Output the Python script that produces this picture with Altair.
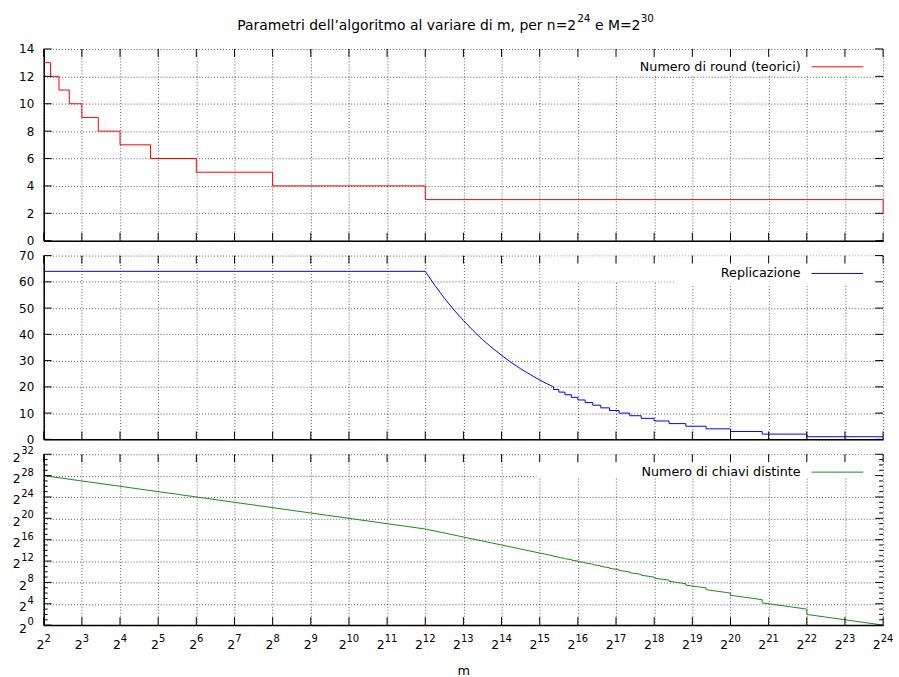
import altair as alt
import pandas as pd

FONT = "DejaVu Sans"
# Title "Parametri dell’algoritmo al variare di m, per n=2^24 e M=2^30" (pieces, with real superscripts)
TITLE_MAIN = "Parametri dell’algoritmo al variare di m, per n=2"
TITLE_SUP1 = "24"
TITLE_MID = "e M=2"
TITLE_SUP2 = "30"
X_TITLE = "m"

# x axis: exponent k of m = 2^k (labels drawn as "2" with superscript k)
x_tick_exps = [2, 3, 4, 5, 6, 7, 8, 9, 10, 11, 12, 13, 14, 15, 16, 17, 18, 19, 20, 21, 22, 23, 24]
x_tick_sup = ["2", "3", "4", "5", "6", "7", "8", "9", "10", "11", "12", "13", "14", "15",
              "16", "17", "18", "19", "20", "21", "22", "23", "24"]

# Panel 1: number of rounds (step function, value starts at given exponent)
rounds_label = "Numero di round (teorici)"
round_step_exp = [2.0, 2.18, 2.4, 2.67, 3.0, 3.43, 4.0, 4.8, 6.0, 8.0, 12.0, 24.0]
round_step_val = [13, 12, 11, 10, 9, 8, 7, 6, 5, 4, 3, 2]
rounds_y_ticks = [0, 2, 4, 6, 8, 10, 12, 14]

# Panel 2: replication
rep_label = "Replicazione"
rep_curve_exp = [2.0, 12.0, 12.25, 12.5, 12.75, 13.0, 13.25, 13.5, 13.75, 14.0,
                 14.25, 14.5, 14.75, 15.0, 15.2, 15.36]
rep_curve_val = [64, 64, 58.7, 53.8, 49.3, 45.3, 41.5, 38.0, 34.9, 32.0,
                 29.3, 26.9, 24.7, 22.6, 21.1, 20.0]
rep_step_exp = [15.36, 15.50, 15.66, 15.83, 16.0, 16.19, 16.39, 16.6, 16.83, 17.08,
                17.36, 17.66, 18.0, 18.39, 18.83, 19.36, 20.0, 20.83, 22.0]
rep_step_val = [19, 18, 17, 16, 15, 14, 13, 12, 11, 10, 9, 8, 7, 6, 5, 4, 3, 2, 1]
rep_end_exp = 24.0
rep_y_ticks = [0, 10, 20, 30, 40, 50, 60, 70]

# Panel 3: number of distinct keys (log2 of the value)
keys_label = "Numero di chiavi distinte"
keys_curve_exp = [2.0, 12.0, 13.0, 14.0, 15.0, 15.36]
keys_curve_log2 = [28.0, 18.0, 16.5, 15.0, 13.5, 12.97]
keys_step_start_log2 = [12.89, 12.67, 12.43, 12.18, 11.91, 11.62, 11.32, 10.99, 10.63, 10.24,
                        9.81, 9.34, 8.81, 8.20, 7.49, 6.64, 5.59, 4.17, 2.00]
keys_step_end_log2 = [12.74, 12.51, 12.26, 12.00, 11.72, 11.42, 11.10, 10.76, 10.38, 9.97,
                      9.51, 9.00, 8.42, 7.76, 6.97, 6.00, 4.76, 3.00, 0.00]
keys_y_major = [0, 4, 8, 12, 16, 20, 24, 28, 32]
keys_y_sup = ["0", "4", "8", "12", "16", "20", "24", "28", "32"]
keys_y_minor = [1, 2, 3, 5, 6, 7, 9, 10, 11, 13, 14, 15, 17, 18, 19, 21, 22, 23,
                25, 26, 27, 29, 30, 31]

W = 845
H1, H2, H3 = 193, 185, 172
TICK = 8
MINOR = 4
BASE_FS = 12.5
SUP_FS = 10
SUP_DIGIT_W = 6.4


# ---- build tables ----
df_rounds = pd.DataFrame({"x": round_step_exp, "y": round_step_val})
df_rounds["i"] = range(len(df_rounds))

rep_pts = list(zip(rep_curve_exp, rep_curve_val))
rep_ends = rep_step_exp[1:] + [rep_end_exp]
for s, e, v in zip(rep_step_exp, rep_ends, rep_step_val):
    rep_pts += [(s, v), (e, v)]
df_rep = pd.DataFrame(rep_pts, columns=["x", "y"])
df_rep["i"] = range(len(df_rep))

keys_pts = list(zip(keys_curve_exp, keys_curve_log2))
for s, e, a, b in zip(rep_step_exp, rep_ends, keys_step_start_log2, keys_step_end_log2):
    keys_pts += [(s, a), (e, b)]
df_keys = pd.DataFrame(keys_pts, columns=["x", "y"])
df_keys["i"] = range(len(df_keys))

xs = alt.Scale(domain=[2, 24], nice=False, zero=False)


def text_layer(txt, x, y, size, align="left"):
    return alt.Chart(pd.DataFrame({"t": [txt]})).mark_text(
        align=align, baseline="alphabetic", font=FONT, fontSize=size, color="black").encode(
        text="t:N", x=alt.value(x), y=alt.value(y))


def panel(df, color, interp, y_dom, y_ticks, height, legend_text,
          rects, show_x, sup_labels=None, minor=None, extra=None):
    ys = alt.Scale(domain=y_dom, nice=False, zero=False)
    if show_x:
        xaxis = alt.Axis(values=x_tick_exps, labels=False, title=X_TITLE, grid=True,
                         ticks=False, tickSize=0, minExtent=28, maxExtent=28,
                         titlePadding=12)
    else:
        xaxis = alt.Axis(values=x_tick_exps, labels=False, title=None, grid=True,
                         ticks=False, tickSize=0)
    yaxis = alt.Axis(values=y_ticks, grid=True, ticks=False, tickSize=0, labelPadding=10,
                     title=None, minExtent=30, maxExtent=30, labelFlush=False,
                     labels=sup_labels is None)

    one = pd.DataFrame({"label": [legend_text]})

    line = alt.Chart(df).mark_line(color=color, strokeWidth=1, interpolate=interp).encode(
        x=alt.X("x:Q", scale=xs, axis=xaxis),
        y=alt.Y("y:Q", scale=ys, axis=yaxis),
        order="i:Q")

    layers = []
    for (rx, rx2, ry, ry2) in rects:
        layers.append(alt.Chart(one).mark_rect(fill="white").encode(
            x=alt.value(rx), x2=alt.value(rx2), y=alt.value(ry), y2=alt.value(ry2)))
    layers.append(line)

    # inward ticks, mirrored on all four sides
    dxt = pd.DataFrame({"t": x_tick_exps})
    for y0, y1 in [(height, height - TICK), (0, TICK)]:
        layers.append(alt.Chart(dxt).mark_rule(color="black", strokeWidth=1).encode(
            x=alt.X("t:Q", scale=xs, axis=xaxis), y=alt.value(y0), y2=alt.value(y1)))
    dyt = pd.DataFrame({"t": y_ticks})
    for x0, x1 in [(0, TICK), (W, W - TICK)]:
        layers.append(alt.Chart(dyt).mark_rule(color="black", strokeWidth=1).encode(
            y=alt.Y("t:Q", scale=ys, axis=yaxis), x=alt.value(x0), x2=alt.value(x1)))
    if minor:
        dmt = pd.DataFrame({"t": minor})
        for x0, x1 in [(0, MINOR), (W, W - MINOR)]:
            layers.append(alt.Chart(dmt).mark_rule(color="black", strokeWidth=1).encode(
                y=alt.Y("t:Q", scale=ys, axis=yaxis), x=alt.value(x0), x2=alt.value(x1)))

    # x tick labels "2^k" with real superscript text
    if show_x:
        dxl = pd.DataFrame({"t": x_tick_exps, "sup": x_tick_sup})
        for n, d in [(1, 0.8), (2, -2.4)]:
            sub = dxl[dxl["sup"].str.len() == n]
            layers.append(alt.Chart(sub).mark_text(
                align="right", baseline="alphabetic", font=FONT, fontSize=BASE_FS,
                color="black", dx=d).encode(
                x=alt.X("t:Q", scale=xs, axis=xaxis), y=alt.value(height + 24),
                text=alt.value("2")))
            layers.append(alt.Chart(sub).mark_text(
                align="left", baseline="alphabetic", font=FONT, fontSize=SUP_FS,
                color="black", dx=d).encode(
                x=alt.X("t:Q", scale=xs, axis=xaxis), y=alt.value(height + 17),
                text="sup:N"))

    # y tick labels "2^k"
    if sup_labels is not None:
        dyl = pd.DataFrame({"t": y_ticks, "sup": sup_labels})
        for n in [1, 2]:
            sub = dyl[dyl["sup"].str.len() == n]
            layers.append(alt.Chart(sub).mark_text(
                align="right", baseline="alphabetic", font=FONT, fontSize=SUP_FS,
                color="black", dy=0).encode(
                x=alt.value(-10), y=alt.Y("t:Q", scale=ys, axis=yaxis), text="sup:N"))
            layers.append(alt.Chart(sub).mark_text(
                align="right", baseline="alphabetic", font=FONT, fontSize=BASE_FS,
                color="black", dy=7.5).encode(
                x=alt.value(-10 - SUP_DIGIT_W * n - 0.5),
                y=alt.Y("t:Q", scale=ys, axis=yaxis), text=alt.value("2")))

    layers.append(alt.Chart(one).mark_text(align="right", baseline="middle", font=FONT,
                                           fontSize=12.8, color="black").encode(
        text="label:N", x=alt.value(762), y=alt.value(18)))
    layers.append(alt.Chart(one).mark_rule(color=color, strokeWidth=1).encode(
        x=alt.value(773), x2=alt.value(825), y=alt.value(18)))
    if extra:
        layers += extra

    return alt.layer(*layers).properties(width=W, height=height)


title_layers = [
    text_layer(TITLE_MAIN, 536, -19.4, 14, align="right"),
    text_layer(TITLE_SUP1, 537, -27, 10.5),
    text_layer(TITLE_MID, 555, -19.4, 14),
    text_layer(TITLE_SUP2, 601, -27, 10.5),
]

p1 = panel(df_rounds, "#ff0000", "step-after", [0, 14], rounds_y_ticks, H1,
           rounds_label, [(500, 843, 1, 26)], False, extra=title_layers)
p2 = panel(df_rep, "#0000ff", "linear", [0, 70], rep_y_ticks, H2,
           rep_label, [(500, 843, 1, 26), (636, 843, 1, 30)], False)
p3 = panel(df_keys, "#1a8a1a", "linear", [0, 32], keys_y_major, H3, keys_label,
           [(496, 843, 1, 24)], True, sup_labels=keys_y_sup, minor=keys_y_minor)

chart = alt.vconcat(p1, p2, p3, spacing=15, bounds="flush").properties(
    padding={"left": 12, "top": 12, "right": 5, "bottom": 5},
).configure_view(stroke=None).configure_axis(
    domainColor="black", domainWidth=1.5,
    gridColor="#000000", gridDash=[1, 2], gridOpacity=0.65, gridWidth=1,
    labelFont=FONT, labelFontSize=12, labelColor="black",
    titleFont=FONT, titleFontSize=13, titleFontWeight="normal", titleColor="black",
)

chart.save("out.html", embed_options={"renderer": "svg", "actions": False})
